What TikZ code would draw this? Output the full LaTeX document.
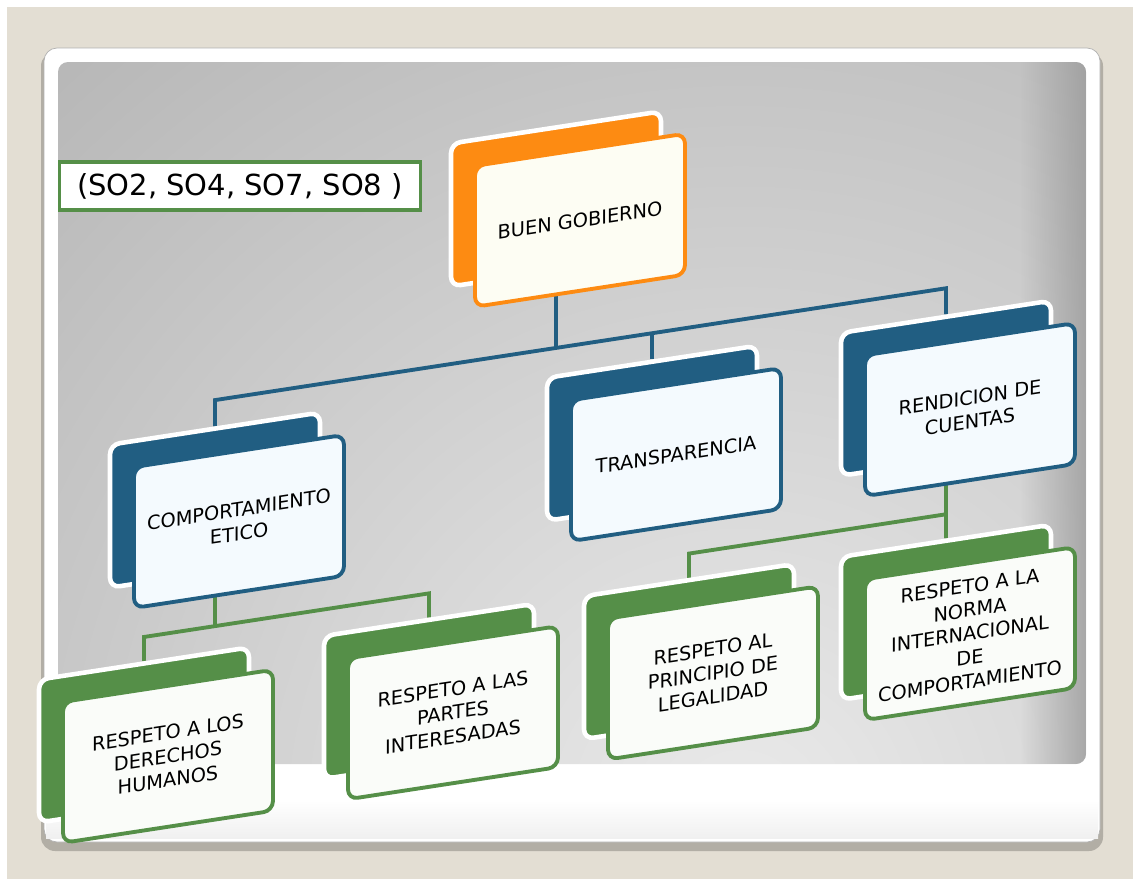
\documentclass[tikz,border=0pt]{standalone}
\usepackage{fontspec}
\setmainfont{DejaVu Sans}
\usepackage{tikz}
\usetikzlibrary{fadings}
\definecolor{paper}{RGB}{227, 222, 211}
\definecolor{shadowC}{RGB}{178, 174, 165}
\definecolor{panelL}{RGB}{234, 234, 234}
\definecolor{panelD}{RGB}{152, 152, 152}
\definecolor{orangeC}{RGB}{253, 139, 18}
\definecolor{blueC}{RGB}{33, 94, 130}
\definecolor{greenC}{RGB}{85, 143, 72}
\definecolor{creamF}{RGB}{253, 253, 243}
\definecolor{blueF}{RGB}{244, 250, 254}
\definecolor{greenF}{RGB}{250, 252, 249}
\pgfdeclarelayer{panel}
\pgfdeclarelayer{links}
\pgfsetlayers{panel,links,main}
\tikzfading[name=edgefade, left color=transparent!100, right color=transparent!0]

\begin{document}
\begin{tikzpicture}[x=0.02cm, y=-0.02cm,
  backcard/.style={draw=white, line width=2.6pt, fill=#1, rounded corners=5.5pt,
    minimum width=4.2cm, minimum height=2.86cm, transform shape},
  frontcard/.style 2 args={draw=#1, fill=#2, line width=2.2pt, rounded corners=5.5pt,
    minimum width=4.2cm, minimum height=2.82cm, align=center, transform shape,
    font=\fontsize{11}{13.6}\selectfont},
  link/.style={draw=#1, line width=2.2pt},
  tagbox/.style={draw=greenC, fill=white, line width=2.2pt, minimum width=7.22cm,
    minimum height=0.96cm, font=\fontsize{16.5}{20}\selectfont}]
  \useasboundingbox (0,0) rectangle (1133,879);

  % slide background
  \begin{pgfonlayer}{panel}
    \fill[white] (0,0) rectangle (1133,879);
    \fill[paper] (7,7) rectangle (1133,879);
    \fill[shadowC, rounded corners=8pt] (41,52) rectangle (1103,851);
    \filldraw[fill=white, draw=gray!60, line width=0.4pt, rounded corners=7.4pt] (44,48) rectangle (1100,842);
    \shade[top color=white, bottom color=gray!12] (46,800) rectangle (1098,838);
    \begin{scope}
      \clip[rounded corners=5.7pt] (58,62) rectangle (1086,764);
      \shade[inner color=panelL, outer color=panelD] (740,820) circle (1650);
      \fill[panelD, path fading=edgefade, opacity=0.75] (1020,62) rectangle (1086,764);
    \end{scope}
  \end{pgfonlayer}

  \node[tagbox] (tag) at (240,186) {(SO2, SO4, SO7, SO8 )};

  \begin{scope}[yslant=0.153]
    \foreach \n/\u/\v/\c/\f/\t in {buen/556/284/orangeC/creamF/{BUEN GOBIERNO},
      etico/215/533/blueC/blueF/{COMPORTAMIENTO\\ETICO},
      transp/652/533/blueC/blueF/{TRANSPARENCIA},
      rendic/946/533/blueC/blueF/{RENDICION DE\\CUENTAS},
      derech/144/757/greenC/greenF/{RESPETO A LOS\\DERECHOS\\HUMANOS},
      partes/429/757/greenC/greenF/{RESPETO A LAS\\PARTES\\INTERESADAS},
      legal/689/757/greenC/greenF/{RESPETO AL\\PRINCIPIO DE\\LEGALIDAD},
      norma/946/757/greenC/greenF/{RESPETO A LA\\NORMA\\INTERNACIONAL\\DE\\COMPORTAMIENTO}} {
      \node[backcard=\c] (\n) at (\u, \v) {};
      \node[frontcard={\c}{\f}] (\n-F) at (\u+24, \v+25) {\t};
    }

    % tree links
    \begin{pgfonlayer}{links}
      \coordinate (bus-m) at (556,433);
      \coordinate (bus-l) at (215,433);
      \coordinate (bus-t) at (652,433);
      \coordinate (bus-r) at (946,433);
      \draw[link=blueC] (buen.south) -- (bus-m);
      \draw[link=blueC] (etico.north) -- (bus-l) -- (bus-r) -- (rendic.north);
      \draw[link=blueC] (transp.north) -- (bus-t);

      \coordinate (lft-m) at (215,659);
      \coordinate (lft-l) at (144,659);
      \coordinate (lft-r) at (429,659);
      \draw[link=greenC] (etico.south) -- (lft-m);
      \draw[link=greenC] (derech.north) -- (lft-l) -- (lft-r) -- (partes.north);

      \coordinate (rgt-l) at (689,659);
      \coordinate (rgt-r) at (946,659);
      \draw[link=greenC] (rendic.south) -- (rgt-r);
      \draw[link=greenC] (legal.north) -- (rgt-l) -- (rgt-r) -- (norma.north);
    \end{pgfonlayer}
  \end{scope}

\end{tikzpicture}
\end{document}
